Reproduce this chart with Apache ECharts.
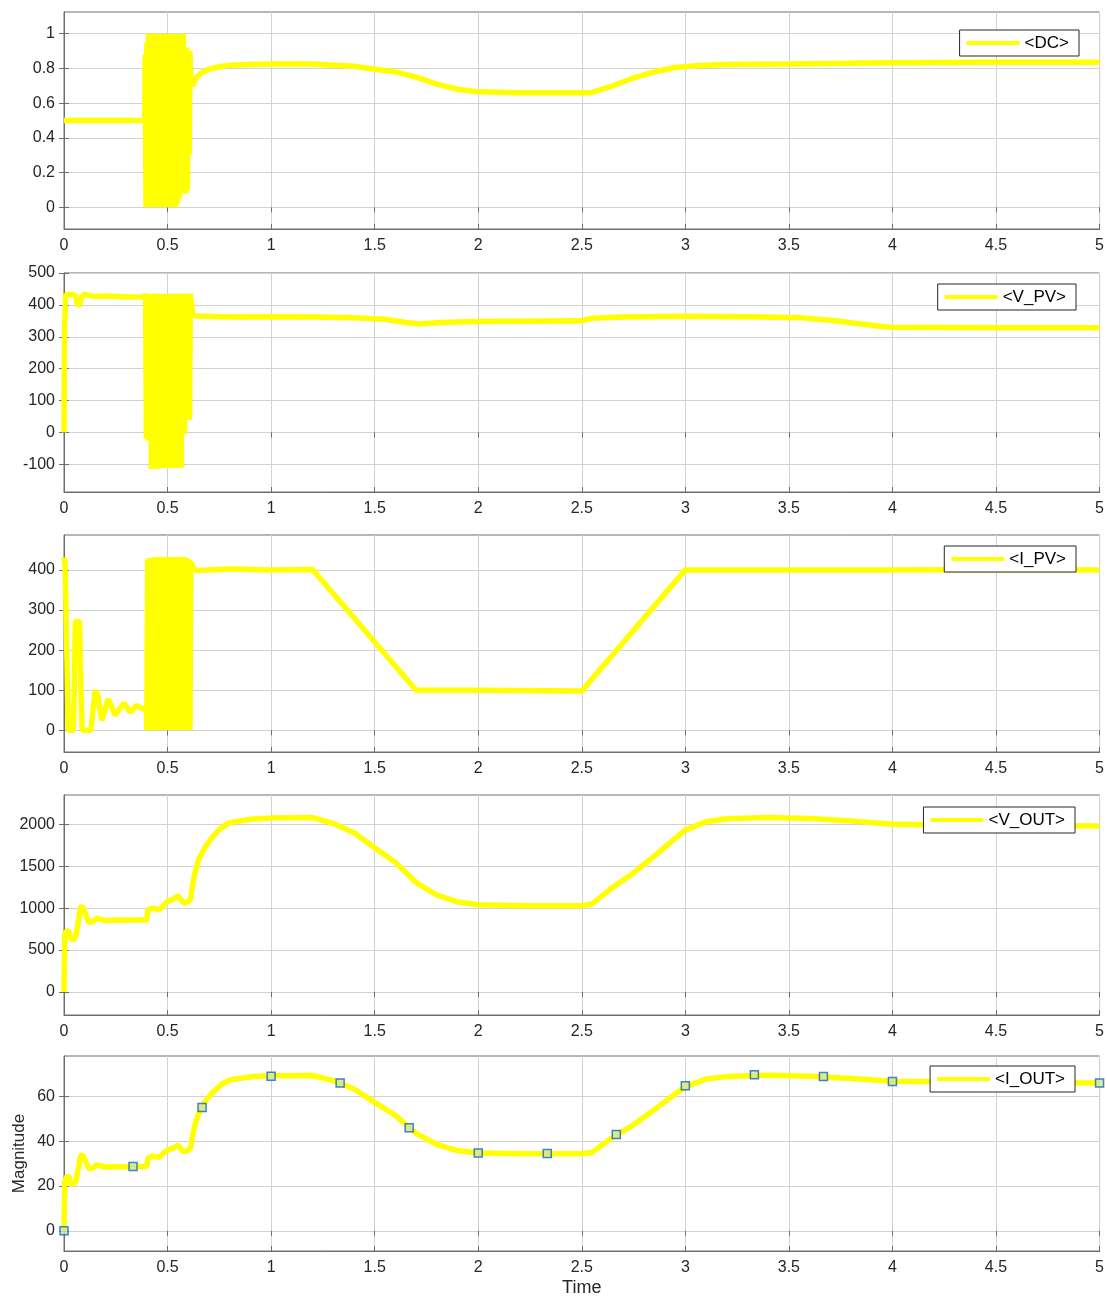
<!DOCTYPE html>
<html><head><meta charset="utf-8">
<script src="https://cdn.jsdelivr.net/npm/echarts@6/dist/echarts.min.js"></script>
<style>html,body{margin:0;padding:0;background:#fff}#c{width:1107px;height:1298px}</style>
</head><body><div id="c"></div>
<script>
// ---------- data (time, value) ----------
const seriesNames = ['<DC>', '<V_PV>', '<I_PV>', '<V_OUT>', '<I_OUT>'];
const xTickLabels = [0, 0.5, 1, 1.5, 2, 2.5, 3, 3.5, 4, 4.5, 5];
const dcTicks = [0, 0.2, 0.4, 0.6, 0.8, 1];
const vpvTicks = [-100, 0, 100, 200, 300, 400, 500];
const ipvTicks = [0, 100, 200, 300, 400];
const voutTicks = [0, 500, 1000, 1500, 2000];
const ioutTicks = [0, 20, 40, 60];

const dcData = [
  [0,0.5],[0.390,0.5],
  [0.392,0.88],[0.396,0],[0.400,0.95],[0.404,0],[0.408,1],[0.412,0],[0.416,0.9],[0.420,0],
  [0.424,1],[0.428,0],[0.432,0.85],[0.436,0],[0.440,1],[0.444,0],[0.448,1],[0.452,0],
  [0.456,0.9],[0.460,0],[0.464,1],[0.468,0],[0.472,1],[0.476,0],[0.480,0.92],[0.484,0],
  [0.488,1],[0.492,0],[0.496,1],[0.500,0],[0.504,0.88],[0.508,0],[0.512,1],[0.516,0],
  [0.520,1],[0.524,0],[0.528,0.9],[0.532,0],[0.536,1],[0.540,0],[0.544,0.95],[0.548,0.02],
  [0.552,0.85],[0.556,0.05],[0.560,1],[0.564,0.08],[0.568,0.9],[0.572,0.08],[0.576,1],
  [0.580,0.1],[0.584,0.9],[0.588,0.08],[0.592,0.92],[0.596,0.1],[0.600,0.9],[0.604,0.3],
  [0.608,0.9],[0.612,0.72],
  [0.621,0.70],[0.64,0.75],[0.67,0.78],[0.7,0.795],[0.75,0.81],[0.8,0.818],[0.9,0.823],
  [1.0,0.826],[1.2,0.826],[1.4,0.812],[1.5,0.795],[1.6,0.78],[1.7,0.75],[1.8,0.71],
  [1.9,0.68],[2.0,0.665],[2.2,0.66],[2.5,0.66],[2.55,0.662],[2.65,0.70],[2.75,0.745],
  [2.85,0.78],[2.95,0.805],[3.05,0.815],[3.2,0.822],[3.5,0.825],[4.0,0.832],[4.5,0.835],[5.0,0.835]
];

const vpvData = [
  [0,0],[0.003,330],[0.008,432],[0.03,433],[0.055,430],[0.062,405],[0.075,398],[0.085,425],
  [0.1,433],[0.15,426],[0.2,428],[0.3,425],[0.39,425],
  [0.394,435],[0.398,-20],[0.402,435],[0.406,-25],[0.410,435],[0.414,-20],[0.418,435],
  [0.422,-115],[0.426,435],[0.430,-115],[0.434,435],[0.438,-115],[0.442,435],[0.446,-110],
  [0.450,435],[0.454,-115],[0.458,435],[0.462,-30],[0.466,435],[0.470,-110],[0.474,435],
  [0.478,-112],[0.482,435],[0.486,-110],[0.490,435],[0.494,-112],[0.498,435],[0.502,-110],
  [0.506,435],[0.510,-112],[0.514,435],[0.518,-110],[0.522,435],[0.526,-112],[0.530,435],
  [0.534,-110],[0.538,435],[0.542,-112],[0.546,435],[0.550,-110],[0.554,435],[0.558,-112],
  [0.562,435],[0.566,-110],[0.570,435],[0.574,-5],[0.578,435],[0.582,-5],[0.586,435],
  [0.590,40],[0.594,435],[0.598,40],[0.602,435],[0.606,40],[0.610,435],
  [0.622,368],[0.64,365],[0.8,362],[1.0,363],[1.2,362],[1.4,360],[1.55,355],[1.65,345],
  [1.72,340],[1.8,344],[1.9,346],[2.0,348],[2.2,349],[2.5,350],[2.55,358],[2.7,362],
  [3.0,364],[3.3,363],[3.55,360],[3.7,352],[3.85,340],[3.95,332],[4.0,330],[4.5,328],[5.0,328]
];

const ipvData = [
  [0,420],[0.004,430],[0.01,300],[0.02,0],[0.045,0],[0.05,110],[0.055,270],[0.075,272],
  [0.082,100],[0.088,0],[0.13,0],[0.15,100],[0.165,85],[0.182,25],[0.214,78],[0.246,38],
  [0.29,68],[0.319,45],[0.35,62],[0.383,52],[0.398,58],
  [0.400,0],[0.404,425],[0.408,0],[0.412,430],[0.416,0],[0.420,428],[0.424,0],[0.428,430],
  [0.432,0],[0.436,428],[0.440,0],[0.444,432],[0.448,0],[0.452,430],[0.456,0],[0.460,432],
  [0.464,0],[0.468,430],[0.472,0],[0.476,432],[0.480,0],[0.484,433],[0.488,0],[0.492,430],
  [0.496,0],[0.500,432],[0.504,0],[0.508,430],[0.512,0],[0.516,432],[0.520,0],[0.524,430],
  [0.528,0],[0.532,432],[0.536,0],[0.540,430],[0.544,0],[0.548,432],[0.552,0],[0.556,430],
  [0.560,0],[0.564,432],[0.568,0],[0.572,430],[0.576,0],[0.580,432],[0.584,0],[0.588,430],
  [0.592,0],[0.596,428],[0.600,0],[0.604,425],[0.608,0],[0.612,420],
  [0.625,405],[0.64,398],[0.7,400],[0.8,402],[1.0,400],[1.2,401],[1.7,100],[2.0,100],
  [2.5,98],[3.0,400],[3.5,400],[4.0,400],[4.5,401],[5.0,400]
];

const voutData = [
  [0,0],[0.004,700],[0.015,730],[0.025,720],[0.03,640],[0.05,620],[0.06,700],[0.08,1010],
  [0.09,1015],[0.12,830],[0.14,840],[0.16,880],[0.2,850],[0.25,860],[0.3,855],[0.35,860],
  [0.4,860],[0.405,980],[0.43,1000],[0.46,980],[0.48,1030],[0.5,1080],[0.53,1110],[0.55,1150],
  [0.57,1080],[0.58,1060],[0.6,1080],[0.61,1100],[0.63,1400],[0.65,1580],[0.68,1720],
  [0.72,1860],[0.76,1960],[0.8,2020],[0.9,2060],[1.0,2075],[1.2,2080],[1.3,2010],[1.4,1900],
  [1.5,1720],[1.6,1545],[1.7,1305],[1.8,1155],[1.9,1075],[2.0,1040],[2.2,1030],[2.5,1030],
  [2.55,1050],[2.65,1250],[2.75,1420],[2.85,1620],[2.95,1830],[3.0,1930],[3.1,2030],
  [3.2,2065],[3.4,2080],[3.6,2070],[3.8,2040],[4.0,2000],[4.5,1985],[5.0,1980]
];

const ioutData = [
  [0,0],[0.004,22],[0.015,24.5],[0.025,24],[0.03,21],[0.05,21],[0.06,23],[0.08,33.5],
  [0.09,33.8],[0.12,27.8],[0.14,28],[0.16,29.5],[0.2,28.4],[0.25,28.7],[0.3,28.5],[0.35,28.7],
  [0.4,28.7],[0.405,32.5],[0.43,33.3],[0.46,32.8],[0.48,34.5],[0.5,36],[0.53,37],[0.55,38.3],
  [0.57,36],[0.58,35.3],[0.6,36],[0.61,36.6],[0.63,46.5],[0.65,52.5],[0.68,57.5],[0.72,62],
  [0.76,65.3],[0.8,67.3],[0.9,68.7],[1.0,69.2],[1.2,69.3],[1.3,67],[1.4,63.3],[1.5,57.3],
  [1.6,51.5],[1.7,43.5],[1.8,38.5],[1.9,35.8],[2.0,34.7],[2.2,34.4],[2.5,34.4],[2.55,35],
  [2.65,41.8],[2.75,47.3],[2.85,54],[2.95,61],[3.0,64.3],[3.1,67.7],[3.2,68.8],[3.4,69.4],
  [3.6,69],[3.8,68],[4.0,66.7],[4.5,66.2],[5.0,66]
];

const markerT = [0, 0.3333, 0.6667, 1, 1.3333, 1.6667, 2, 2.3333, 2.6667, 3, 3.3333, 3.6667, 4, 4.3333, 4.6667, 5];
const markerV = [0, 28.7, 55, 69, 66, 46, 34.7, 34.5, 43, 64.7, 69.6, 68.8, 66.6, 66.3, 66.1, 66];

// ---------- layout ----------
const FONT = "'Liberation Sans', Arial, Helvetica, sans-serif";
const FRAME = '#6e6e6e';
const GRIDC = '#d2d2d2';
const TXT = '#262626';
const grids = [
  {left:64, right:7, top:12, height:217},
  {left:64, right:7, top:273, height:219},
  {left:64, right:7, top:535, height:217},
  {left:64, right:7, top:795, height:220},
  {left:64, right:7, top:1056, height:195}
];
const yLim = [[-0.125,1.125],[-187,500],[-54,487],[-274,2349],[-9,78]];
const yTicks = [dcTicks, vpvTicks, ipvTicks, voutTicks, ioutTicks];
const allData = [dcData, vpvData, ipvData, voutData, ioutData];
const legendPos = [
  {right:28, top:30},{right:31, top:284},{right:31, top:546},{right:32, top:807},{right:32, top:1066}
];
const plain = v => String(v);

const xAxes = [], yAxes = [], series = [], legends = [];
grids.forEach((g, i) => {
  g.show = true; g.borderColor = FRAME; g.borderWidth = 1; g.backgroundColor = '#fff';
  xAxes.push({
    type:'value', gridIndex:i, min:0, max:5, interval:0.5, position:'bottom',
    axisLine:{show:true, onZero:false, lineStyle:{color:FRAME, width:1}},
    axisTick:{show:true, inside:true, length:5, lineStyle:{color:FRAME}},
    axisLabel:{show:true, margin:9, fontSize:16, color:TXT, fontFamily:FONT,
      customValues: xTickLabels, formatter: plain},
    splitLine:{show:true, lineStyle:{color:GRIDC, width:1}},
    name: i === 4 ? 'Time' : '', nameLocation:'middle', nameGap:28, nameMoveOverlap:false,
    nameTextStyle:{fontSize:18, color:TXT, fontFamily:FONT}
  });
  xAxes.push({
    type:'value', gridIndex:i, min:0, max:5, interval:0.5, position:'top',
    axisLine:{show:false}, axisTick:{show:true, inside:true, length:5, lineStyle:{color:FRAME}},
    axisLabel:{show:false}, splitLine:{show:false}
  });
  yAxes.push({
    type:'value', gridIndex:i, min:yLim[i][0], max:yLim[i][1], position:'left',
    axisLine:{show:true, onZero:false, lineStyle:{color:FRAME, width:1}},
    axisTick:{show:true, inside:true, length:5, lineStyle:{color:FRAME}, customValues:yTicks[i]},
    axisLabel:{show:true, margin:9, fontSize:16, color:TXT, fontFamily:FONT,
      customValues:yTicks[i], formatter: plain},
    splitLine:{show:true, lineStyle:{color:GRIDC, width:1}},
    name: i === 4 ? 'Magnitude' : '', nameLocation:'middle', nameGap:36, nameMoveOverlap:false,
    nameTextStyle:{fontSize:17, color:TXT, fontFamily:FONT}
  });
  yAxes.push({
    type:'value', gridIndex:i, min:yLim[i][0], max:yLim[i][1], position:'right',
    axisLine:{show:false},
    axisTick:{show:true, inside:true, length:5, lineStyle:{color:FRAME}, customValues:yTicks[i]},
    axisLabel:{show:false}, splitLine:{show:false}
  });
  series.push({
    type:'line', name:seriesNames[i], xAxisIndex:2*i, yAxisIndex:2*i,
    data:allData[i], showSymbol:false, symbol:'none', sampling:null,
    color:'#FFFF00',
    lineStyle:{color:'#FFFF00', width:5.5, join:'bevel'}, z:2
  });
  legends.push(Object.assign({
    data:[{name:seriesNames[i], icon:'rect'}], orient:'horizontal', selectedMode:false,
    itemWidth:53, itemHeight:4, itemGap:0, padding:[4,10,4,7],
    borderColor:'#262626', borderWidth:1, backgroundColor:'#fff',
    textStyle:{fontSize:17, color:'#000', fontFamily:FONT, lineHeight:18}
  }, legendPos[i]));
});

series.push({
  type:'scatter', name:'markers', xAxisIndex:8, yAxisIndex:8, clip:false,
  data: markerT.map((t, k) => [t, markerV[k]]),
  symbol:'rect', symbolSize:8,
  itemStyle:{color:'#cfe6a8', borderColor:'#1766b3', borderWidth:1.5}, z:3
});

const chart = echarts.init(document.getElementById('c'), null, {renderer:'canvas'});
chart.setOption({
  animation:false,
  backgroundColor:'#fff',
  grid:grids, xAxis:xAxes, yAxis:yAxes, series:series, legend:legends
});
</script></body></html>
